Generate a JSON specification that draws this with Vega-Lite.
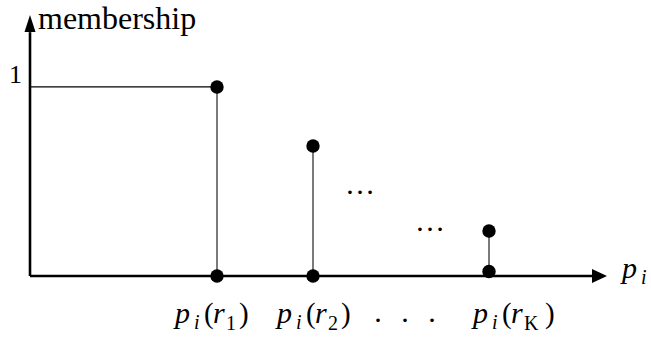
{
  "$schema": "https://vega.github.io/schema/vega-lite/v6.json",
  "width": 651,
  "height": 345,
  "autosize": {"type": "fit", "contains": "padding"},
  "padding": 0,
  "background": "white",
  "config": {"view": {"stroke": null}, "text": {"font": "'Liberation Serif', 'DejaVu Serif', serif"}},
  "datasets": {
    "axes": [{"x": 0, "y": 0, "x2": 0, "y2": 1.29}, {"x": 0, "y": 0, "x2": 562, "y2": 0}],
    "level": [{"x": 0, "y": 1, "x2": 187, "y2": 1}],
    "stems": [{"x": 187, "y": 0, "y2": 1}, {"x": 283, "y": 0, "y2": 0.688}, {"x": 459, "y": 0.024, "y2": 0.238}],
    "points": [
      {"x": 187, "y": 1}, {"x": 187, "y": 0},
      {"x": 283, "y": 0.688}, {"x": 283, "y": 0},
      {"x": 459, "y": 0.238}, {"x": 459, "y": 0.024}
    ],
    "arrows": [{"x": 0, "y": 1.336, "dir": "up"}, {"x": 569.5, "y": 0, "dir": "right"}],
    "title": [{"x": 8, "y": 1.306, "t": "membership"}],
    "one": [{"x": -14.5, "y": 1.021, "t": "1"}],
    "ellipses": [{"x": 330, "y": 0.436, "t": "…"}, {"x": 400, "y": 0.240, "t": "…"}],
    "dots": [{"x": 348, "y": -0.244, "t": "."}, {"x": 375, "y": -0.244, "t": "."}, {"x": 402, "y": -0.244, "t": "."}],
    "axislabel": [{"x": 592, "y": -0.011}],
    "labels": [{"x": 145, "y": -0.249, "sub": "1"}, {"x": 247, "y": -0.249, "sub": "2"}, {"x": 443, "y": -0.249, "sub": "K"}]
  },
  "encoding": {
    "x": {"field": "x", "type": "quantitative", "scale": {"domain": [-30, 621], "nice": false, "zero": false}, "axis": null},
    "y": {"field": "y", "type": "quantitative", "scale": {"domain": [-0.365, 1.46], "nice": false, "zero": false}, "axis": null}
  },
  "layer": [
    {"data": {"name": "axes"}, "mark": {"type": "rule", "color": "black", "strokeWidth": 2.6},
     "encoding": {"x2": {"field": "x2"}, "y2": {"field": "y2"}}},
    {"data": {"name": "level"}, "mark": {"type": "rule", "color": "black", "strokeWidth": 1.2},
     "encoding": {"x2": {"field": "x2"}, "y2": {"field": "y2"}}},
    {"data": {"name": "stems"}, "mark": {"type": "rule", "color": "#222", "strokeWidth": 1.2},
     "encoding": {"y2": {"field": "y2"}}},
    {"data": {"name": "points"}, "mark": {"type": "point", "shape": "circle", "filled": true, "color": "black", "opacity": 1, "size": 180}},
    {"data": {"name": "arrows"}, "mark": {"type": "point", "filled": true, "color": "black", "opacity": 1, "size": 256},
     "encoding": {"shape": {"field": "dir", "type": "nominal", "legend": null,
       "scale": {"domain": ["up", "right"], "range": ["M0,-1.06L0.69,1.06L-0.69,1.06Z", "M0.94,0L-0.94,-0.875L-0.94,0.875Z"]}}}},
    {"data": {"name": "title"}, "mark": {"type": "text", "fontSize": 32, "align": "left", "baseline": "alphabetic", "color": "black"},
     "encoding": {"text": {"field": "t"}}},
    {"data": {"name": "one"}, "mark": {"type": "text", "fontSize": 26, "align": "center", "baseline": "alphabetic", "color": "black"},
     "encoding": {"text": {"field": "t"}}},
    {"data": {"name": "ellipses"}, "mark": {"type": "text", "fontSize": 30, "align": "center", "baseline": "alphabetic", "color": "black"},
     "encoding": {"text": {"field": "t"}}},
    {"data": {"name": "dots"}, "mark": {"type": "text", "fontSize": 30, "align": "center", "baseline": "alphabetic", "color": "black"},
     "encoding": {"text": {"field": "t"}}},
    {"data": {"name": "axislabel"}, "mark": {"type": "text", "fontSize": 30, "fontStyle": "italic", "align": "left", "baseline": "alphabetic", "color": "black", "text": "p"}},
    {"data": {"name": "axislabel"}, "mark": {"type": "text", "fontSize": 20, "fontStyle": "italic", "align": "left", "baseline": "alphabetic", "color": "black", "text": "i", "dx": 19, "dy": 6}},
    {"data": {"name": "labels"}, "mark": {"type": "text", "fontSize": 30, "fontStyle": "italic", "align": "left", "baseline": "alphabetic", "color": "black", "text": "p"}},
    {"data": {"name": "labels"}, "mark": {"type": "text", "fontSize": 20, "fontStyle": "italic", "align": "left", "baseline": "alphabetic", "color": "black", "text": "i", "dx": 19, "dy": 6}},
    {"data": {"name": "labels"}, "mark": {"type": "text", "fontSize": 29, "align": "left", "baseline": "alphabetic", "color": "black", "text": "(", "dx": 29}},
    {"data": {"name": "labels"}, "mark": {"type": "text", "fontSize": 30, "fontStyle": "italic", "align": "left", "baseline": "alphabetic", "color": "black", "text": "r", "dx": 38}},
    {"data": {"name": "labels"}, "mark": {"type": "text", "fontSize": 20, "align": "left", "baseline": "alphabetic", "color": "black", "dx": 51, "dy": 7},
     "encoding": {"text": {"field": "sub"}}},
    {"data": {"name": "labels"}, "transform": [{"filter": "datum.sub !== 'K'"}],
     "mark": {"type": "text", "fontSize": 29, "align": "left", "baseline": "alphabetic", "color": "black", "text": ")", "dx": 64}},
    {"data": {"name": "labels"}, "transform": [{"filter": "datum.sub === 'K'"}],
     "mark": {"type": "text", "fontSize": 29, "align": "left", "baseline": "alphabetic", "color": "black", "text": ")", "dx": 72}}
  ]
}
